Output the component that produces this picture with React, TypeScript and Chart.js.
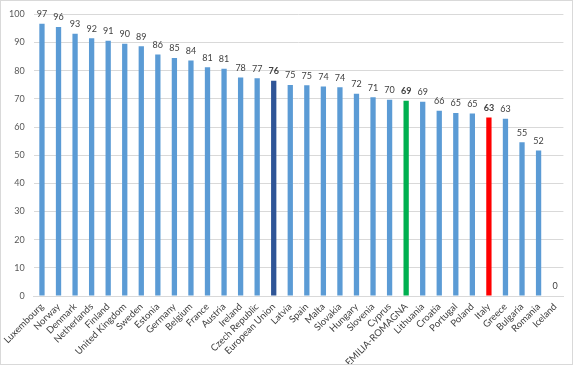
import { useEffect, useRef } from "react";
import { Chart, registerables } from "chart.js";

Chart.register(...registerables);

const categories = [
  "Luxembourg", "Norway", "Denmark", "Netherlands", "Finland", "United Kingdom",
  "Sweden", "Estonia", "Germany", "Belgium", "France", "Austria", "Ireland",
  "Czech Republic", "European Union", "Latvia", "Spain", "Malta", "Slovakia",
  "Hungary", "Slovenia", "Cyprus", "EMILIA-ROMAGNA", "Lithuania", "Croatia",
  "Portugal", "Poland", "Italy", "Greece", "Bulgaria", "Romania", "Iceland",
];

const values = [
  96.7, 95.5, 93.1, 91.5, 90.6, 89.6, 88.7, 85.8, 84.5, 83.6, 81.2, 80.7, 77.6,
  77.3, 76.4, 74.9, 74.8, 74.4, 74.1, 71.8, 70.6, 69.7, 69.3, 69.0, 65.8, 65.0,
  64.8, 63.4, 62.9, 54.6, 51.7, 0,
];

const yTicks = [0, 10, 20, 30, 40, 50, 60, 70, 80, 90, 100];

const highlightColors: Record<string, string> = {
  "European Union": "#2F5597",
  "EMILIA-ROMAGNA": "#00B050",
  Italy: "#FF0000",
};
const baseColor = "#5B9BD5";
const FONT = "Lato, 'Open Sans', sans-serif";

export default function App() {
  const ref = useRef<HTMLCanvasElement>(null);

  useEffect(() => {
    document.body.style.margin = "0";
    const labelPlugin = {
      id: "valueLabels",
      afterDatasetsDraw(chart: any) {
        const ctx = chart.ctx;
        const meta = chart.getDatasetMeta(0);
        ctx.save();
        ctx.textAlign = "center";
        ctx.textBaseline = "bottom";
        ctx.fillStyle = "#404040";
        meta.data.forEach((bar: any, i: number) => {
          const bold = highlightColors[categories[i]] !== undefined;
          ctx.font = `${bold ? "bold " : ""}9px ${FONT}`;
          ctx.fillText(String(Math.round(values[i])), bar.x, bar.y - 5);
        });
        ctx.restore();
      },
    };

    const chart = new Chart(ref.current!, {
      type: "bar",
      data: {
        labels: categories,
        datasets: [
          {
            data: values,
            backgroundColor: categories.map((c) => highlightColors[c] ?? baseColor),
            categoryPercentage: 1,
            barPercentage: 0.32,
          },
        ],
      },
      options: {
        animation: false,
        responsive: false,
        devicePixelRatio: 1,
        layout: { padding: { top: 9.7, right: 9.6, left: 0, bottom: 0 } },
        plugins: {
          legend: { display: false },
          tooltip: { enabled: false },
        },
        scales: {
          x: {
            grid: { display: false, drawTicks: false },
            border: { display: true, color: "#d9d9d9" },
            ticks: {
              autoSkip: false,
              maxRotation: 45,
              minRotation: 45,
              padding: 5,
              color: "#404040",
              font: { family: FONT, size: 9.5 },
            },
            afterFit: (s: any) => {
              s.height = 69;
            },
          },
          y: {
            min: 0,
            max: 100,
            afterBuildTicks: (s: any) => {
              s.ticks = yTicks.map((v) => ({ value: v }));
            },
            grid: { color: "#d9d9d9", drawTicks: false },
            border: { display: false },
            ticks: {
              padding: 9,
              color: "#595959",
              font: { family: FONT, size: 9 },
            },
            afterFit: (s: any) => {
              s.width = 33.4;
            },
          },
        },
      },
      plugins: [labelPlugin],
    });
    return () => chart.destroy();
  }, []);

  return (
    <div style={{ position: "relative", width: 573, height: 365 }}>
      <canvas ref={ref} width={573} height={365} style={{ display: "block" }} />
      <div
        style={{
          position: "absolute",
          inset: 0,
          border: "1px solid #d9d9d9",
          pointerEvents: "none",
        }}
      />
    </div>
  );
}
